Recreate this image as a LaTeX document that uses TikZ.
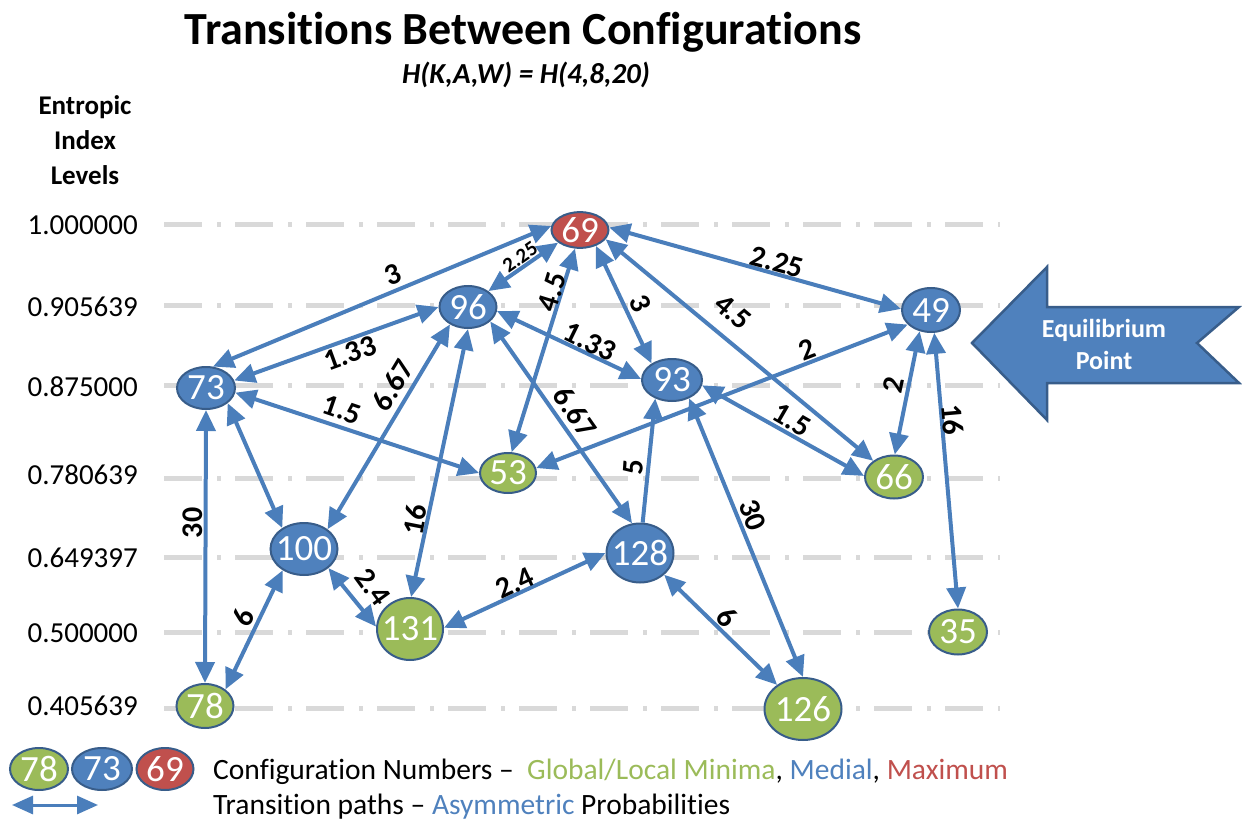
\documentclass[tikz,border=0pt]{standalone}
\usepackage{fontspec}
\setmainfont{Carlito}[Ligatures=NoCommon]
\usetikzlibrary{arrows.meta,shapes.geometric}

\definecolor{medialblue}{RGB}{79,129,189}
\definecolor{confedge}{RGB}{56,93,138}
\definecolor{minimgreen}{RGB}{155,187,89}
\definecolor{maxred}{RGB}{192,80,77}
\definecolor{pathblue}{RGB}{74,126,187}
\definecolor{gridgray}{RGB}{217,217,217}

% configuration number, centred without widening its ellipse
\newcommand\confnum[1]{\makebox[0pt]{#1}}

\begin{document}
\begin{tikzpicture}[x=1pt,y=-1pt,
  conf/.style={ellipse, draw=confedge, line width=2pt, inner sep=0pt,
    text=white, font=\fontsize{37}{37}\selectfont},
  minim/.style={conf, fill=minimgreen},
  medial/.style={conf, fill=medialblue},
  maxim/.style={conf, fill=maxred},
  sz/.style 2 args={minimum width=#1pt, minimum height=#2pt},
  path2/.style={draw=pathblue, line width=4pt, {Triangle[length=21pt,width=19pt]}-{Triangle[length=21pt,width=19pt]}},
  path1/.style={draw=pathblue, line width=4pt, -{Triangle[length=21pt,width=19pt]}},
  prob/.style={font=\bfseries\fontsize{30}{30}\selectfont, inner sep=0pt},
  probsmall/.style={font=\bfseries\fontsize{21}{21}\selectfont, inner sep=0pt},
  level/.style={anchor=east, font=\fontsize{29}{29}\selectfont, inner sep=0pt},
  gridline/.style={draw=gridgray, line width=5pt, dash pattern=on 38pt off 15pt on 4pt off 14pt},
]
\useasboundingbox (0,0) rectangle (1242,821);

% headings
\node[anchor=base, inner sep=0pt, font=\bfseries\fontsize{46}{46}\selectfont] (title) at (523,45) {Transitions Between Configurations};
\node[anchor=base, inner sep=0pt, font=\bfseries\itshape\fontsize{29}{29}\selectfont] (subtitle) at (526,84) {H(K,A,W) = H(4,8,20)};
\node[align=center, inner sep=0pt, font=\bfseries\fontsize{27}{35}\selectfont] (axistitle) at (85,140) {Entropic\\Index\\Levels};

% entropic index levels
\foreach \y/\v in {225/1.000000, 307/0.905639, 387/0.875000, 475/0.780639, 558/0.649397, 633/0.500000, 706/0.405639}
  \node[level] (lv\y) at (138,\y) {\v};
\foreach \y in {225,305,385,478,557,632,708}
  \draw[gridline] (164,\y) -- (1000,\y);

% configurations
\node[maxim,  sz={57}{34}] (c69)  at (580,230) {\confnum{69}};
\node[medial, sz={57}{42}] (c96)  at (468,307) {\confnum{96}};
\node[medial, sz={58}{44}] (c49)  at (931,310) {\confnum{49}};
\node[medial, sz={58}{42}] (c73)  at (206,388) {\confnum{73}};
\node[medial, sz={60}{42}] (c93)  at (672,380) {\confnum{93}};
\node[minim,  sz={56}{40}] (c53)  at (508,473) {\confnum{53}};
\node[minim,  sz={58}{43}] (c66)  at (894,477) {\confnum{66}};
\node[medial, sz={67}{52}] (c100) at (304,549) {\confnum{100}};
\node[medial, sz={67}{59}] (c128) at (640,553) {\confnum{128}};
\node[minim,  sz={66}{62}] (c131) at (410,629) {\confnum{131}};
\node[minim,  sz={58}{45}] (c35)  at (958,632) {\confnum{35}};
\node[minim,  sz={57}{44}] (c78)  at (205,706) {\confnum{78}};
\node[minim,  sz={77}{62}] (c126) at (803,709) {\confnum{126}};

% transition paths
\draw[path2] (c73.72)   -- (c69.172);
\draw[path2] (c96.38)   -- (c69.210);
\draw[path2] (c53.80)   -- (c69.255);
\draw[path2] (c69.315)  -- (c93.141);
\draw[path2] (c69.340)  -- (c66.142);
\draw[path2] (c69.5)    -- (c49.178);
\draw[path2] (c73.15)   -- (c96.180);
\draw[path2] (c96.224)  -- (c100.40);
\draw[path2] (c96.270)  -- (c131.88);
\draw[path2] (c96.327)  -- (c128.105);
\draw[path2] (c96.352)  -- (c93.178);
\draw[path2] (c73.351)  -- (c53.180);
\draw[path2] (c73.325)  -- (c100.136);
\draw[path2] (c73.270)  -- (c78.90);
\draw[path2] (c100.225) -- (c78.39);
\draw[path2] (c100.322) -- (c131.176);
\draw[path2] (c131.2)   -- (c128.180);
\draw[path1] (c128.85)  -- (c93.228);
\draw[path2] (c93.313)  -- (c126.90);
\draw[path2] (c93.350)  -- (c66.178);
\draw[path2] (c53.10)   -- (c49.212);
\draw[path2] (c49.242)  -- (c66.88);
\draw[path2] (c49.278)  -- (c35.90);
\draw[path2] (c128.318) -- (c126.137);

% transition probabilities
\node[prob, rotate=22]      (p1)  at (393,275) {3};
\node[probsmall, rotate=35] (p2)  at (520,257) {2.25};
\node[prob, rotate=73]      (p3)  at (552,292) {4.5};
\node[prob, rotate=-66]     (p4)  at (640,303) {3};
\node[prob, rotate=-40]     (p5)  at (733,312) {4.5};
\node[prob, rotate=-15]     (p6)  at (777,262) {2.25};
\node[prob, rotate=20]      (p7)  at (350,353) {1.33};
\node[prob, rotate=59]      (p8)  at (393,385) {6.67};
\node[prob, rotate=-26]     (p9)  at (590,342) {1.33};
\node[prob, rotate=-19]     (p10) at (342,410) {1.5};
\node[prob, rotate=79]      (p11) at (415,520) {16};
\node[prob, rotate=-55]     (p12) at (575,412) {6.67};
\node[prob, rotate=90]      (p13) at (193,523) {30};
\node[prob, rotate=66]      (p14) at (243,617) {6};
\node[prob, rotate=-54]     (p15) at (373,587) {2.4};
\node[prob, rotate=25]      (p16) at (515,583) {2.4};
\node[prob, rotate=86]      (p17) at (633,467) {5};
\node[prob, rotate=-69]     (p18) at (753,515) {30};
\node[prob, rotate=-47]     (p19) at (727,617) {6};
\node[prob, rotate=-30]     (p20) at (792,420) {1.5};
\node[prob, rotate=21]      (p21) at (807,350) {2};
\node[prob, rotate=78]      (p22) at (893,385) {2};
\node[prob, rotate=-85]     (p23) at (953,420) {16};

% equilibrium marker
\draw[fill=medialblue, draw=confedge, line width=2.5pt, line join=miter]
  (972,343) -- (1047,267) -- (1047,307) -- (1239,307) -- (1197,343)
  -- (1239,383) -- (1047,383) -- (1047,420) -- cycle;
\node[align=center, text=white, inner sep=0pt, font=\bfseries\fontsize{26}{32}\selectfont] (eqlabel) at (1104,344) {Equilibrium\\Point};

% key
\node[minim,  sz={58}{42}] (k78) at (39,769)  {\confnum{78}};
\node[medial, sz={60}{42}] (k73) at (102,769) {\confnum{73}};
\node[maxim,  sz={57}{42}] (k69) at (165,769) {\confnum{69}};
\coordinate (ka) at (12,805);
\coordinate (kb) at (98,805);
\draw[draw=pathblue, line width=3pt, {Triangle[length=21pt,width=18pt]}-{Triangle[length=21pt,width=18pt]}] (ka) -- (kb);
\node[anchor=base west, inner sep=0pt, font=\fontsize{29.5}{29.5}\selectfont] (key1) at (213,779)
  {Configuration Numbers --\ \ {\color{minimgreen}Global/Local Minima}, {\color{medialblue}Medial}, {\color{maxred}Maximum}};
\node[anchor=base west, inner sep=0pt, font=\fontsize{29.5}{29.5}\selectfont] (key2) at (213,814)
  {Transition paths -- {\color{medialblue}Asymmetric} Probabilities};
\end{tikzpicture}
\end{document}
